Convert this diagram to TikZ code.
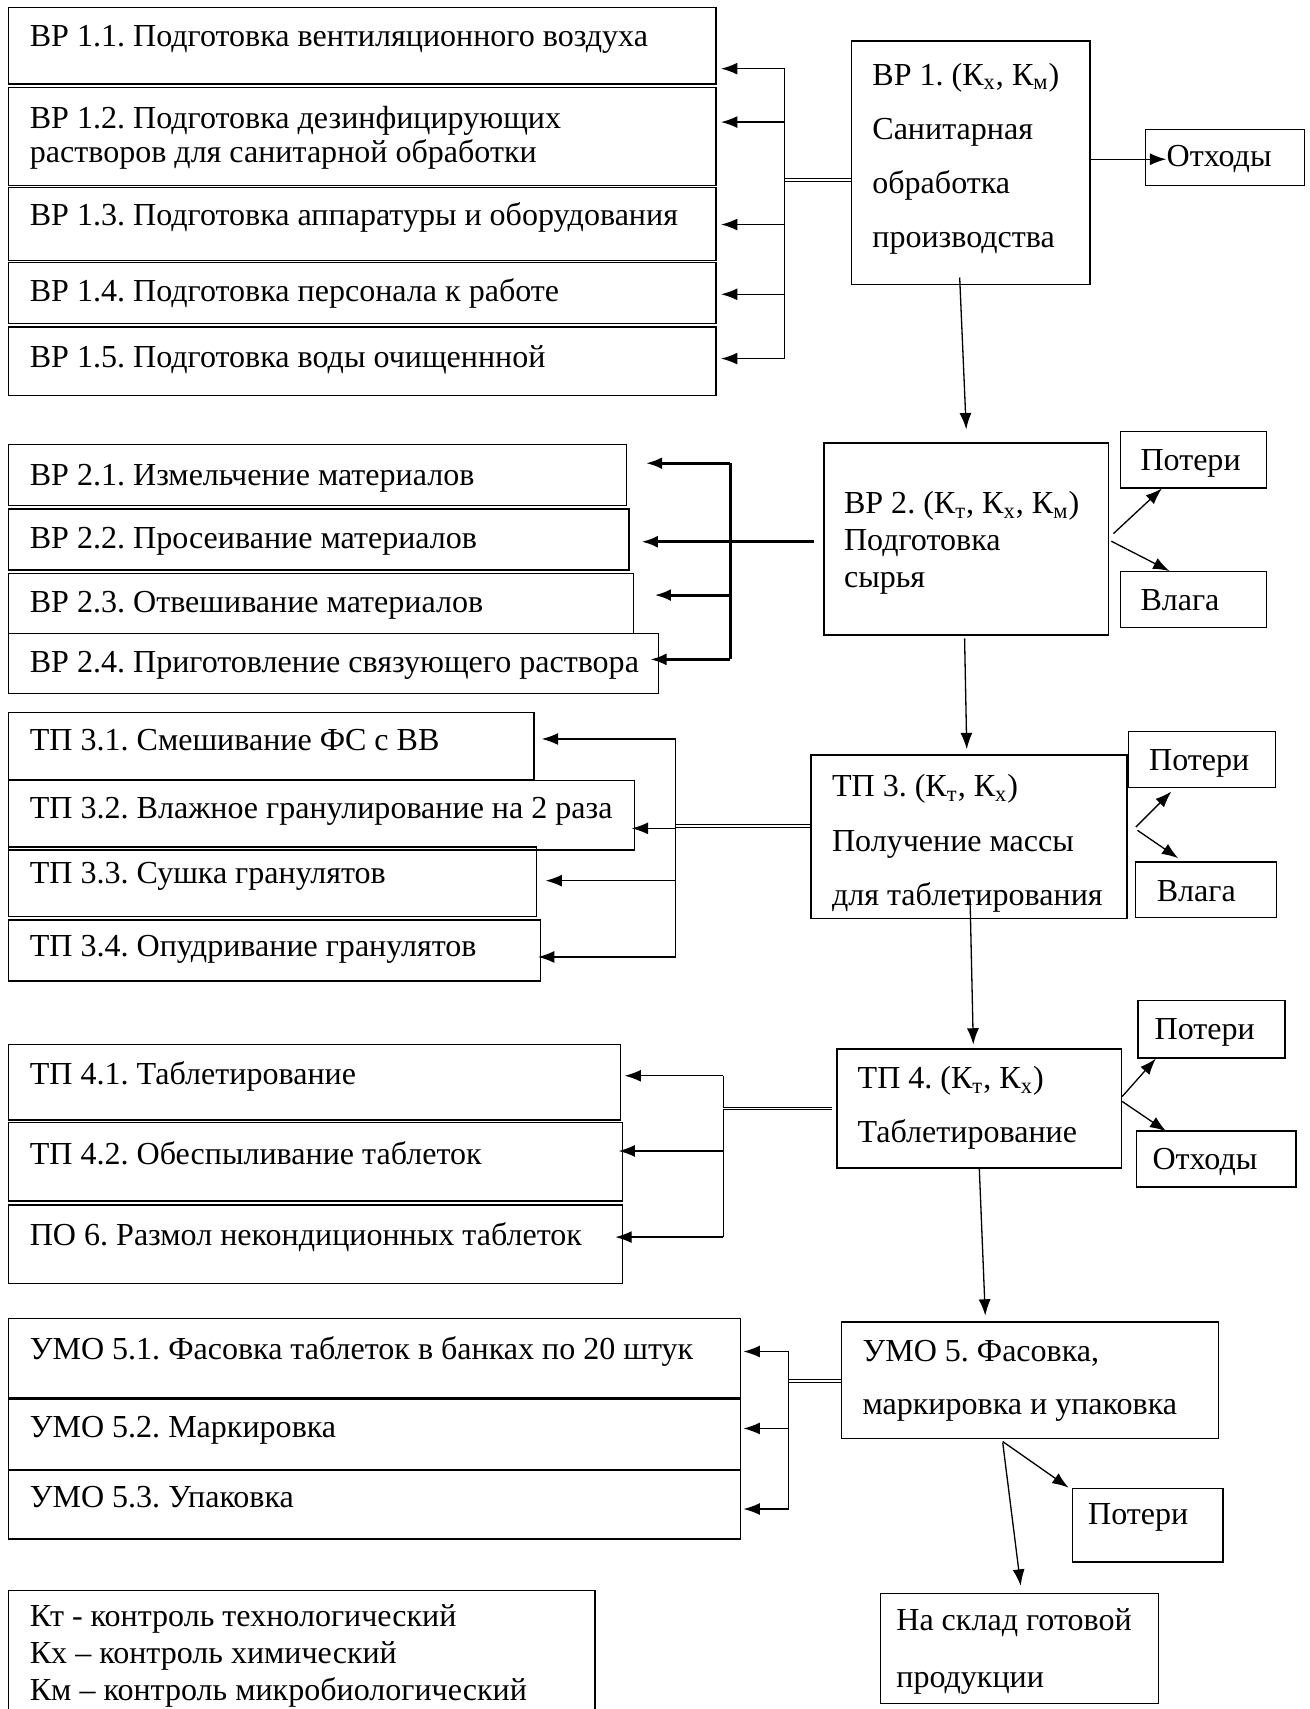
\documentclass[tikz,border=0pt]{standalone}
\usepackage{fontspec}
\setmainfont{Liberation Serif}
\frenchspacing
\usetikzlibrary{arrows.meta}
\usetikzlibrary{calc}
\usetikzlibrary{fit}
\tikzset{>={Latex[length=7.5pt,width=5.5pt]}}
\tikzset{
  blk/.style={draw, line width=0.6pt, inner sep=0pt},
  lbl/.style={anchor=base west, inner sep=0pt, align=left, font=\fontsize{14.7}{15.75}\selectfont},
  bus/.style={line width=0.6pt},
  busb/.style={line width=1.3pt},
  dbl/.style={double, double distance=0.8pt, line width=0.5pt},
}

\begin{document}
\begin{tikzpicture}[x=0.5pt, y=-0.5pt]
    \def\boxl{8}
    \def\textl{27}
    \useasboundingbox (0,0) rectangle (1201,1568);

    % Group 1
    \node[blk, fit={(\boxl,7) (657,77)}] (b11) {};
    \node[lbl] (b11t) at (\textl,43) {ВР 1.1. Подготовка вентиляционного воздуха};
    \node[blk, fit={(\boxl,80) (657,170)}] (b12) {};
    \node[lbl] (b12t) at (\textl,149.5) {ВР 1.2. Подготовка дезинфицирующих\\растворов для санитарной обработки};
    \node[blk, fit={(\boxl,172) (657,239)}] (b13) {};
    \node[lbl] (b13t) at (\textl,207) {ВР 1.3. Подготовка аппаратуры и оборудования};
    \node[blk, fit={(\boxl,241) (657,297)}] (b14) {};
    \node[lbl] (b14t) at (\textl,277) {ВР 1.4. Подготовка персонала к работе};
    \node[blk, fit={(\boxl,300) (657,363)}] (b15) {};
    \node[lbl] (b15t) at (\textl,337) {ВР 1.5. Подготовка воды очищеннной};

    \node[blk, fit={(781,37.5) (1000,261)}] (vr1) {};
    \node[lbl, font=\fontsize{14.7}{24.8}\selectfont] (vr1t) at (800,227) {ВР 1. (К\textsubscript{х}, К\textsubscript{м})\\Санитарная\\обработка\\производства};
    \node[blk, fit={(1051,119) (1197,170)}] (o1) {};
    \node[lbl] (o1t) at (1070,153) {Отходы};

    \coordinate (g1top) at (720,63);
    \coordinate (g1bot) at (720,329);
    \coordinate (g1mid) at (720,165);
    \draw[bus] (g1top) -- (g1bot);
    \draw[dbl] (g1mid) -- (g1mid -| vr1.west);
    \foreach \y/\b in {63/b11, 112/b12, 206/b13, 270/b14, 329/b15}{
        \coordinate (j) at (720,\y);
        \draw[bus,->] (j) -- ($(j -| \b.east)+(4,0)$);
    }
    \draw[bus,->] (vr1.east |- o1t.west) -- (o1t.west);

    % Group 2
    \node[blk, fit={(\boxl,408) (575,464)}] (b21) {};
    \node[lbl] (b21t) at (\textl,445) {ВР 2.1. Измельчение материалов};
    \node[blk, fit={(\boxl,467) (577,523)}] (b22) {};
    \node[lbl] (b22t) at (\textl,503) {ВР 2.2. Просеивание материалов};
    \node[blk, fit={(\boxl,526) (581,581)}] (b23) {};
    \node[lbl] (b23t) at (\textl,562) {ВР 2.3. Отвешивание материалов};
    \node[blk, fit={(\boxl,581) (604,636)}] (b24) {};
    \node[lbl] (b24t) at (\textl,617) {ВР 2.4. Приготовление связующего раствора};

    \node[blk, fit={(756,406.5) (1017,582.6)}] (vr2) {};
    \node[lbl, font=\fontsize{14.7}{17}\selectfont] (vr2t) at (774,539) {ВР 2. (К\textsubscript{т}, К\textsubscript{х}, К\textsubscript{м})\\Подготовка\\сырья};
    \node[blk, fit={(1028,396) (1162,447.6)}] (p2) {};
    \node[lbl] (p2t) at (1046,432) {Потери};
    \node[blk, fit={(1028,524.5) (1162,576)}] (w2) {};
    \node[lbl] (w2t) at (1046,560) {Влага};

    \draw[bus,->] ($(vr1.south)+(-10,-7)$) -- ($(vr2.north)+(0,-12)$);
    \coordinate (g2top) at (670,425);
    \coordinate (g2bot) at (670,605);
    \coordinate (g2s) at ($(vr2.west)+(-9,2.5)$);
    \draw[busb] (g2top) -- (g2bot);
    \draw[busb,->] (g2s) -- ($(g2s -| b22.east)+(11,0)$);
    \foreach \y/\b/\d in {425/b21/17, 546/b23/19, 605/b24/-8}{
        \coordinate (j) at (670,\y);
        \draw[busb,->] (j) -- ($(j -| \b.east)+(\d,0)$);
    }
    \draw[bus,->] ($(vr2.east)+(4,-5)$) -- ($(p2.south)+(-29,0)$);
    \draw[bus,->] ($(vr2.east)+(2,2)$) -- ($(w2.north)+(-22,0)$);

    % Group 3
    \node[blk, fit={(\boxl,654) (490,715)}] (b31) {};
    \node[lbl] (b31t) at (\textl,689) {ТП 3.1. Смешивание ФС с ВВ};
    \node[blk, fit={(\boxl,716) (582,780)}] (b32) {};
    \node[lbl] (b32t) at (\textl,751) {ТП 3.2. Влажное гранулирование на 2 раза};
    \node[blk, fit={(\boxl,777) (492,841)}] (b33) {};
    \node[lbl] (b33t) at (\textl,811) {ТП 3.3. Сушка гранулятов};
    \node[blk, fit={(\boxl,844) (496,900)}] (b34) {};
    \node[lbl] (b34t) at (\textl,878) {ТП 3.4. Опудривание гранулятов};

    \node[blk, fit={(744,692.6) (1034,843)}] (tp3) {};
    \node[lbl, font=\fontsize{14.7}{25}\selectfont] (tp3t) at (763,831) {ТП 3. (К\textsubscript{т}, К\textsubscript{х})\\Получение массы\\для таблетирования};
    \node[blk, fit={(1035.5,671) (1170,722.6)}] (p3) {};
    \node[lbl] (p3t) at (1054,707) {Потери};
    \node[blk, fit={(1042,791) (1171,842)}] (w3) {};
    \node[lbl] (w3t) at (1061,827) {Влага};

    \draw[bus,->] ($(vr2.south)+(-1.5,2.5)$) -- ($(tp3.north)+(-2,-4.6)$);
    \coordinate (g3top) at (620,678);
    \coordinate (g3bot) at (620,878);
    \coordinate (g3mid) at (620,758);
    \draw[bus] (g3top) -- (g3bot);
    \draw[dbl] (g3mid) -- (g3mid -| tp3.west);
    \foreach \y/\b/\d in {678/b31/6.5, 760/b32/-3, 808/b33/8, 878/b34/-3}{
        \coordinate (j) at (620,\y);
        \draw[bus,->] (j) -- ($(j -| \b.east)+(\d,0)$);
    }
    \draw[bus,->] ($(tp3.east)+(7.5,-9)$) -- ($(p3.south)+(-28,3)$);
    \draw[bus,->] ($(tp3.east)+(9,-6)$) -- ($(w3.north)+(-25.5,-3)$);

    % Group 4
    \node[blk, fit={(\boxl,958) (569.5,1027.6)}] (b41) {};
    \node[lbl] (b41t) at (\textl,995) {ТП 4.1. Таблетирование};
    \node[blk, fit={(\boxl,1030) (571,1102)}] (b42) {};
    \node[lbl] (b42t) at (\textl,1068) {ТП 4.2. Обеспыливание таблеток};
    \node[blk, fit={(\boxl,1105.6) (571,1177.7)}] (b43) {};
    \node[lbl] (b43t) at (\textl,1143) {ПО 6. Размол некондиционных таблеток};

    \node[blk, fit={(768,962.5) (1029,1071.6)}] (tp4) {};
    \node[lbl, font=\fontsize{14.7}{24.7}\selectfont] (tp4t) at (786.5,1048.5) {ТП 4. (К\textsubscript{т}, К\textsubscript{х})\\Таблетирование};
    \node[blk, fit={(1044,918) (1179,970.6)}] (p4) {};
    \node[lbl] (p4t) at (1059,954) {Потери};
    \node[blk, fit={(1043,1037.6) (1189,1089)}] (o4) {};
    \node[lbl] (o4t) at (1057,1073) {Отходы};

    \draw[bus,->] ($(tp3.south)+(1,-20)$) -- ($(tp4.north)+(-5.5,-3.5)$);
    \coordinate (g4top) at (663.5,987);
    \coordinate (g4bot) at (663.5,1135);
    \coordinate (g4mid) at (663.5,1017);
    \draw[bus] (g4top) -- (g4bot);
    \draw[dbl] (g4mid) -- ($(g4mid -| tp4.west)+(-4,0)$);
    \foreach \y/\b/\d in {987/b41/3, 1056/b42/-4, 1135/b43/-7}{
        \coordinate (j) at (663.5,\y);
        \draw[bus,->] (j) -- ($(j -| \b.east)+(\d,0)$);
    }
    \draw[bus,->] ($(tp4.east)+(0,-11)$) -- ($(p4.south)+(-51,0)$);
    \draw[bus,->] ($(tp4.east)+(0,-6.5)$) -- ($(o4.north)+(-46,1)$);

    % Group 5
    \node[blk, fit={(\boxl,1210) (679.6,1282.6)}] (b51) {};
    \node[lbl] (b51t) at (\textl,1247) {УМО 5.1. Фасовка таблеток в банках по 20 штук};
    \node[blk, fit={(\boxl,1284) (679.6,1348.3)}] (b52) {};
    \node[lbl] (b52t) at (\textl,1319) {УМО 5.2. Маркировка};
    \node[blk, fit={(\boxl,1349) (679.6,1412)}] (b53) {};
    \node[lbl] (b53t) at (\textl,1383) {УМО 5.3. Упаковка};

    \node[blk, fit={(772,1213) (1118,1320)}] (umo5) {};
    \node[lbl, font=\fontsize{14.7}{24.3}\selectfont] (umo5t) at (791,1298) {УМО 5. Фасовка,\\маркировка и упаковка};
    \node[blk, fit={(983.7,1365.5) (1122,1433)}] (p5) {};
    \node[lbl] (p5t) at (998,1399) {Потери};
    \node[blk, fit={(808,1462) (1063,1563)}] (sk) {};
    \node[lbl, font=\fontsize{14.7}{26}\selectfont] (skt) at (822,1548) {На склад готовой\\продукции};

    \draw[bus,->] (tp4.south) -- ($(umo5.north)+(-41,-5.3)$);
    \coordinate (g5top) at (723.5,1240);
    \coordinate (g5bot) at (723.5,1384.5);
    \coordinate (g5mid) at (723.5,1267);
    \draw[bus] (g5top) -- (g5bot);
    \draw[dbl] (g5mid) -- (g5mid -| umo5.west);
    \foreach \y/\b in {1240/b51, 1310.6/b52, 1384.5/b53}{
        \coordinate (j) at (723.5,\y);
        \draw[bus,->] (j) -- ($(j -| \b.east)+(2,0)$);
    }
    \draw[bus,->] ($(umo5.south)+(-25,2)$) -- ($(p5.north west)+(-2.7,0)$);
    \draw[bus,->] ($(umo5.south)+(-25,3)$) -- ($(sk.north)+(1,-6.5)$);

    % Legend
    \draw[line width=0.6pt] (\boxl,1568) |- (546,1459) -- (546,1568);
    \node[lbl, font=\fontsize{14.7}{17}\selectfont] (lgt) at (\textl,1560) {Кт - контроль технологический\\Кх – контроль химический\\Км – контроль микробиологический};
\end{tikzpicture}
\end{document}
